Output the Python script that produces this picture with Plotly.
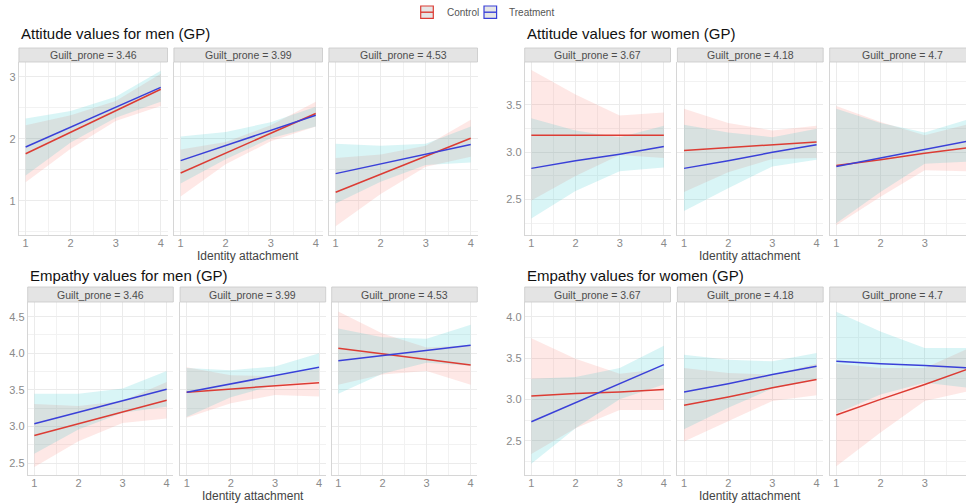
import plotly.graph_objects as go

W, H = 966, 503
FONT = "Liberation Sans"

# ---------------------------------------------------------------- data
identity = [1, 2, 3, 4]
men_gp = ["3.46", "3.99", "4.53"]
women_gp = ["3.67", "4.18", "4.7"]
titles = [
    "Attitude values for men (GP)",
    "Attitude values for women (GP)",
    "Empathy values for men (GP)",
    "Empathy values for women (GP)",
]
conditions = ["Control", "Treatment"]

# Attitude, men: predicted values and 95% CI per Guilt_prone facet
att_men_control_fit = [[1.76, 2.11, 2.45, 2.80], [1.45, 1.77, 2.09, 2.41], [1.14, 1.43, 1.72, 2.01]]
att_men_control_lo = [[1.30, 1.84, 2.29, 2.53], [1.07, 1.59, 1.96, 2.20], [0.59, 1.11, 1.55, 1.71]]
att_men_control_hi = [[2.22, 2.38, 2.61, 3.05], [1.83, 1.95, 2.22, 2.60], [1.69, 1.75, 1.89, 2.31]]
att_men_treat_fit = [[1.87, 2.19, 2.51, 2.83], [1.65, 1.89, 2.14, 2.38], [1.44, 1.60, 1.75, 1.91]]
att_men_treat_lo = [[1.41, 1.94, 2.34, 2.60], [1.28, 1.67, 2.01, 2.20], [0.96, 1.31, 1.58, 1.62]]
att_men_treat_hi = [[2.33, 2.45, 2.68, 3.10], [2.04, 2.11, 2.27, 2.52], [1.92, 1.89, 1.92, 2.20]]

# Attitude, women
att_women_control_fit = [[3.18, 3.18, 3.18, 3.18], [3.02, 3.05, 3.08, 3.11], [2.86, 2.92, 2.99, 3.05]]
att_women_control_lo = [[2.49, 2.75, 2.97, 2.94], [2.58, 2.79, 2.93, 2.94], [2.23, 2.53, 2.81, 2.80]]
att_women_control_hi = [[3.87, 3.61, 3.39, 3.42], [3.46, 3.31, 3.23, 3.28], [3.49, 3.32, 3.18, 3.30]]
att_women_treat_fit = [[2.83, 2.91, 2.98, 3.06], [2.83, 2.91, 3.00, 3.08], [2.85, 2.94, 3.03, 3.12]]
att_women_treat_lo = [[2.30, 2.59, 2.80, 2.84], [2.38, 2.62, 2.85, 2.92], [2.25, 2.58, 2.88, 2.90]]
att_women_treat_hi = [[3.36, 3.23, 3.16, 3.28], [3.29, 3.21, 3.16, 3.25], [3.46, 3.31, 3.21, 3.35]]

# Empathy, men
emp_men_control_fit = [[2.88, 3.04, 3.20, 3.36], [3.47, 3.51, 3.56, 3.60], [4.07, 3.99, 3.92, 3.84]]
emp_men_control_lo = [[2.45, 2.80, 3.05, 3.11], [3.12, 3.32, 3.43, 3.41], [3.57, 3.71, 3.76, 3.57]]
emp_men_control_hi = [[3.31, 3.28, 3.35, 3.61], [3.81, 3.70, 3.69, 3.79], [4.57, 4.27, 4.08, 4.11]]
emp_men_treat_fit = [[3.04, 3.20, 3.35, 3.51], [3.47, 3.58, 3.70, 3.81], [3.90, 3.97, 4.04, 4.11]]
emp_men_treat_lo = [[2.63, 2.96, 3.19, 3.27], [3.13, 3.40, 3.57, 3.62], [3.45, 3.72, 3.87, 3.83]]
emp_men_treat_hi = [[3.45, 3.45, 3.52, 3.76], [3.80, 3.77, 3.82, 4.00], [4.34, 4.22, 4.20, 4.39]]

# Empathy, women
emp_women_control_fit = [[3.04, 3.07, 3.09, 3.12], [2.93, 3.03, 3.14, 3.24], [2.81, 3.00, 3.18, 3.37]]
emp_women_control_lo = [[2.34, 2.65, 2.87, 2.87], [2.49, 2.74, 2.98, 3.05], [2.19, 2.60, 2.98, 3.10]]
emp_women_control_hi = [[3.74, 3.49, 3.31, 3.37], [3.38, 3.32, 3.30, 3.43], [3.43, 3.38, 3.38, 3.62]]
emp_women_treat_fit = [[2.73, 2.96, 3.19, 3.42], [3.09, 3.19, 3.30, 3.40], [3.46, 3.43, 3.41, 3.38]]
emp_women_treat_lo = [[2.22, 2.65, 3.00, 3.18], [2.64, 2.90, 3.13, 3.24], [2.83, 3.06, 3.20, 3.14]]
emp_women_treat_hi = [[3.25, 3.27, 3.38, 3.65], [3.54, 3.48, 3.46, 3.56], [4.06, 3.82, 3.62, 3.62]]

# ---------------------------------------------------------------- styling
LINE_COLORS = {"Control": "#DC3C34", "Treatment": "#3A40D8"}
FILL_COLORS = {"Control": "rgba(248,118,109,0.17)", "Treatment": "rgba(0,191,196,0.15)"}
GRID = "#ebebeb"
GRID_MINOR = "#f2f2f2"
AXIS_LINE = "#d6d6d6"
TICK_FONT = dict(family=FONT, size=11, color="#8a8a8a")

# panel geometry (pixels) for each of the four facet groups
panels = [
    dict(title_xy=(19, 34), lefts=[18.9, 173.9, 328.9], width=148.6, plot=(62, 235),
         strip=(48, 62), yrange=[0.45, 3.24], dtick=1, minor=0.5, fmt="d", gp=men_gp,
         series={"Control": (att_men_control_fit, att_men_control_lo, att_men_control_hi),
                 "Treatment": (att_men_treat_fit, att_men_treat_lo, att_men_treat_hi)}),
    dict(title_xy=(525, 34), lefts=[524.7, 677.4, 829.7], width=145.8, plot=(62, 235),
         strip=(48, 62), yrange=[2.126, 3.954], dtick=0.5, minor=0.25, fmt=".1f", gp=women_gp,
         series={"Control": (att_women_control_fit, att_women_control_lo, att_women_control_hi),
                 "Treatment": (att_women_treat_fit, att_women_treat_lo, att_women_treat_hi)}),
    dict(title_xy=(28, 275), lefts=[27.7, 180.1, 331.7], width=145.6, plot=(302, 475),
         strip=(287, 302), yrange=[2.34, 4.70], dtick=0.5, minor=0.25, fmt=".1f", gp=men_gp,
         series={"Control": (emp_men_control_fit, emp_men_control_lo, emp_men_control_hi),
                 "Treatment": (emp_men_treat_fit, emp_men_treat_lo, emp_men_treat_hi)}),
    dict(title_xy=(525, 275), lefts=[524.7, 677.4, 829.7], width=145.8, plot=(302, 475),
         strip=(287, 302), yrange=[2.085, 4.178], dtick=0.5, minor=0.25, fmt=".1f", gp=women_gp,
         series={"Control": (emp_women_control_fit, emp_women_control_lo, emp_women_control_hi),
                 "Treatment": (emp_women_treat_fit, emp_women_treat_lo, emp_women_treat_hi)}),
]

X_LO, X_HI = 0.85, 4.15

fig = go.Figure()
layout = dict(
    width=W, height=H, margin=dict(l=0, r=0, t=0, b=0),
    paper_bgcolor="white", plot_bgcolor="white", showlegend=False,
    font=dict(family=FONT),
)
shapes = []
annotations = []


def fx(p):
    return p / W


def fy(p):
    return 1 - p / H


n = 0
for g, pan in enumerate(panels):
    top, bottom = pan["plot"]
    s0, s1 = pan["strip"]
    tx, ty = pan["title_xy"]
    annotations.append(dict(
        x=fx(tx), y=fy(ty), xref="paper", yref="paper", xanchor="left", yanchor="middle",
        text=titles[g], showarrow=False, font=dict(family=FONT, size=15, color="#111111")))
    for f, left in enumerate(pan["lefts"]):
        n += 1
        xa = "xaxis" if n == 1 else f"xaxis{n}"
        ya = "yaxis" if n == 1 else f"yaxis{n}"
        xr = "x" if n == 1 else f"x{n}"
        yr = "y" if n == 1 else f"y{n}"
        full_right = left + pan["width"]
        right = min(full_right, W)
        x_end = X_LO + (right - left) / pan["width"] * (X_HI - X_LO)

        layout[xa] = dict(
            domain=[fx(left), fx(right)], range=[X_LO, x_end], anchor=yr,
            tick0=1, dtick=1, ticks="", tickfont=TICK_FONT, ticklabelstandoff=-2,
            showgrid=True, gridcolor=GRID, gridwidth=1,
            minor=dict(dtick=0.5, tick0=0, showgrid=True, gridcolor=GRID_MINOR, gridwidth=1),
            showline=True, linecolor=AXIS_LINE, linewidth=1, zeroline=False, fixedrange=True,
        )
        layout[ya] = dict(
            domain=[fy(bottom), fy(top)], range=pan["yrange"], anchor=xr,
            tick0=0, dtick=pan["dtick"], tickformat=pan["fmt"], ticks="",
            tickfont=TICK_FONT, showticklabels=(f == 0),
            showgrid=True, gridcolor=GRID, gridwidth=1,
            minor=dict(dtick=pan["minor"], tick0=0, showgrid=True, gridcolor=GRID_MINOR, gridwidth=1),
            showline=True, linecolor=AXIS_LINE, linewidth=1, zeroline=False, fixedrange=True,
        )

        # confidence ribbons first, then fitted lines on top
        for cond in conditions:
            fit, lo, hi = pan["series"][cond]
            fig.add_trace(go.Scatter(
                x=identity + identity[::-1], y=lo[f] + hi[f][::-1],
                fill="toself", fillcolor=FILL_COLORS[cond], mode="lines",
                line=dict(width=0), hoverinfo="skip", xaxis=xr, yaxis=yr))
        for cond in conditions:
            fit, lo, hi = pan["series"][cond]
            fig.add_trace(go.Scatter(
                x=identity, y=fit[f], mode="lines", name=cond,
                line=dict(color=LINE_COLORS[cond], width=1.5), xaxis=xr, yaxis=yr))

        # facet strip
        shapes.append(dict(
            type="rect", xref="paper", yref="paper",
            x0=fx(left), x1=fx(full_right), y0=fy(s1), y1=fy(s0),
            fillcolor="#e4e4e4", line=dict(color="#c8c8c8", width=0.8), layer="above"))
        annotations.append(dict(
            x=fx((left + full_right) / 2), y=fy((s0 + s1) / 2), xref="paper", yref="paper",
            xanchor="center", yanchor="middle", showarrow=False,
            text=f"Guilt_prone = {pan['gp'][f]}",
            font=dict(family=FONT, size=10.5, color="#4d4d4d")))

        if f == 1:
            annotations.append(dict(
                x=fx((left + full_right) / 2), y=fy(bottom + 20.5), xref="paper", yref="paper",
                xanchor="center", yanchor="middle", showarrow=False,
                text="Identity attachment", font=dict(family=FONT, size=12, color="#444444")))

# legend across the top
legend_keys = [("Control", 420.7, 445), ("Treatment", 484.0, 507)]
for cond, kx, tx in legend_keys:
    shapes.append(dict(
        type="rect", xref="paper", yref="paper", x0=fx(kx), x1=fx(kx + 12.6),
        y0=fy(18.3), y1=fy(6), fillcolor="#e6e6e6",
        line=dict(color=LINE_COLORS[cond], width=1.2)))
    shapes.append(dict(
        type="line", xref="paper", yref="paper", x0=fx(kx), x1=fx(kx + 12.6),
        y0=fy(12.2), y1=fy(12.2), line=dict(color=LINE_COLORS[cond], width=1.4)))
    annotations.append(dict(
        x=fx(tx), y=fy(12.2), xref="paper", yref="paper", xanchor="left", yanchor="middle",
        showarrow=False, text=cond, font=dict(family=FONT, size=10, color="#555555")))

layout["shapes"] = shapes
layout["annotations"] = annotations
fig.update_layout(**layout)
fig.write_html("out.html")
